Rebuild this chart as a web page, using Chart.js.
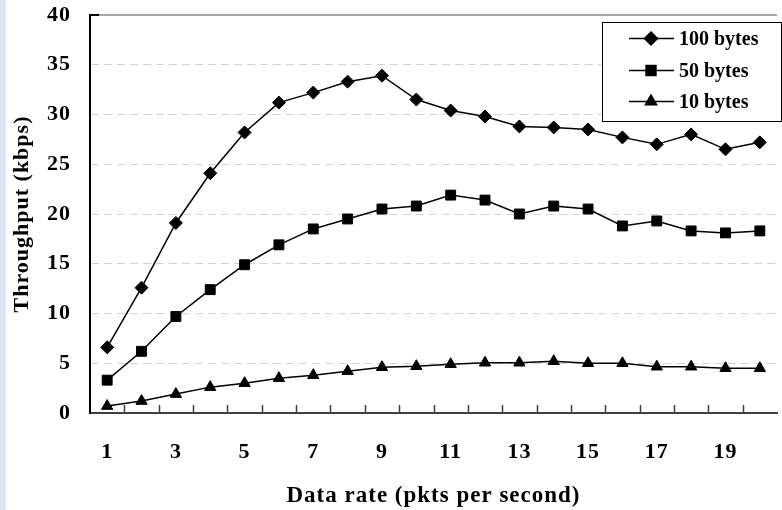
<!DOCTYPE html>
<html>
<head>
<meta charset="utf-8">
<title>Throughput vs data rate</title>
<script src="https://cdn.jsdelivr.net/npm/chart.js"></script>
<style>
    html, body { margin: 0; padding: 0; background: #fff; overflow: hidden; }
    #wrap { position: relative; width: 782px; height: 510px; overflow: hidden; }
    canvas { display: block; }
</style>
</head>
<body>
<div id="wrap"><canvas id="rateChart" width="785" height="510"></canvas></div>
<script>
// data
const rates = [1, 2, 3, 4, 5, 6, 7, 8, 9, 10, 11, 12, 13, 14, 15, 16, 17, 18, 19, 20];
const bytes100 = [6.6, 12.6, 19.1, 24.1, 28.2, 31.2, 32.2, 33.3, 33.9, 31.5, 30.4, 29.8, 28.8, 28.7, 28.5, 27.7, 27.0, 28.0, 26.5, 27.2];
const bytes50 = [3.3, 6.2, 9.7, 12.4, 14.9, 16.9, 18.5, 19.5, 20.5, 20.8, 21.9, 21.4, 20.0, 20.8, 20.5, 18.8, 19.3, 18.3, 18.1, 18.3];
const bytes10 = [0.7, 1.2, 1.9, 2.6, 3.0, 3.5, 3.8, 4.2, 4.6, 4.7, 4.9, 5.05, 5.05, 5.2, 5.0, 5.0, 4.65, 4.65, 4.5, 4.5];
const seriesNames = ['100 bytes', '50 bytes', '10 bytes'];
const yTicks = { min: 0, max: 40, step: 5 };

const FONT = "'Liberation Serif', 'Times New Roman', serif";

document.addEventListener('DOMContentLoaded', () => {
    const ctx = document.getElementById('rateChart').getContext('2d');

    // light strip on the left edge, top frame line, inside tick marks and the boxed legend
    const decorations = {
        id: 'decorations',
        beforeDraw(chart) {
            const c = chart.ctx;
            c.save();
            c.fillStyle = '#dde6f0';
            c.fillRect(0, 0, 6, chart.height);
            c.restore();
            // axis text in the figure is a little spread out
            c.letterSpacing = '1px';
        },
        beforeDatasetsDraw(chart) {
            chart.ctx.letterSpacing = '0px';
        },
        afterDraw(chart) {
            const c = chart.ctx;
            const area = chart.chartArea;
            const xs = chart.scales.x;

            c.save();
            c.letterSpacing = '0px';
            // top frame
            c.strokeStyle = '#a6a6a6';
            c.lineWidth = 2;
            c.beginPath();
            c.moveTo(area.left, area.top);
            c.lineTo(area.right, area.top);
            c.stroke();
            c.strokeStyle = '#000';
            c.beginPath();
            c.moveTo(area.left - 1, area.top);
            c.lineTo(area.left + 9, area.top);
            c.stroke();

            // tick marks between categories, pointing up into the plot
            c.strokeStyle = '#404040';
            c.lineWidth = 1.5;
            for (let i = 0; i < rates.length - 1; i++) {
                const x = Math.round((xs.getPixelForValue(i) + xs.getPixelForValue(i + 1)) / 2) + 0.5;
                c.beginPath();
                c.moveTo(x, area.bottom);
                c.lineTo(x, area.bottom - 8);
                c.stroke();
            }

            // legend box
            const box = { x: 602.5, y: 22.5, w: 179, h: 99 };
            c.fillStyle = '#fff';
            c.fillRect(box.x, box.y, box.w, box.h);
            c.strokeStyle = '#000';
            c.lineWidth = 1;
            c.strokeRect(box.x, box.y, box.w, box.h);

            const rows = [38.5, 70.5, 101.5];
            chart.data.datasets.forEach((ds, i) => {
                const y = rows[i];
                c.strokeStyle = '#000';
                c.lineWidth = 1.5;
                c.beginPath();
                c.moveTo(629, y);
                c.lineTo(674, y);
                c.stroke();
                c.fillStyle = '#000';
                Chart.helpers.drawPoint(c, {
                    pointStyle: ds.pointStyle,
                    radius: ds.pointRadius,
                    rotation: 0,
                    borderWidth: 1
                }, 651, y);
                c.fillStyle = '#000';
                c.font = 'bold 20px ' + FONT;
                c.textAlign = 'left';
                c.textBaseline = 'middle';
                c.fillText(ds.label, 679, y + 1);
            });
            c.restore();
        }
    };

    new Chart(ctx, {
        type: 'line',
        data: {
            labels: rates,
            datasets: [
                {
                    label: seriesNames[0],
                    data: bytes100,
                    borderColor: '#000',
                    backgroundColor: '#000',
                    borderWidth: 1.5,
                    pointStyle: 'rectRot',
                    pointRadius: 6.5,
                    pointBorderWidth: 1,
                    tension: 0
                },
                {
                    label: seriesNames[1],
                    data: bytes50,
                    borderColor: '#000',
                    backgroundColor: '#000',
                    borderWidth: 1.5,
                    pointStyle: 'rect',
                    pointRadius: 7,
                    pointBorderWidth: 1,
                    tension: 0
                },
                {
                    label: seriesNames[2],
                    data: bytes10,
                    borderColor: '#000',
                    backgroundColor: '#000',
                    borderWidth: 1.5,
                    pointStyle: 'triangle',
                    pointRadius: 6.5,
                    pointBorderWidth: 1,
                    tension: 0
                }
            ]
        },
        options: {
            responsive: false,
            animation: false,
            layout: { padding: { top: 15, right: 0, bottom: 0, left: 0 } },
            plugins: {
                legend: { display: false },
                tooltip: { enabled: false }
            },
            scales: {
                x: {
                    type: 'category',
                    offset: true,
                    grid: { display: false, drawTicks: false },
                    border: { display: true, color: '#404040', width: 2 },
                    ticks: {
                        color: '#000',
                        font: { family: FONT, size: 22, weight: 'bold' },
                        padding: 26,
                        autoSkip: false,
                        maxRotation: 0,
                        callback: (v, i) => (i % 2 === 0 ? rates[i] : '')
                    },
                    title: {
                        display: true,
                        text: 'Data rate (pkts per second)',
                        color: '#000',
                        font: { family: FONT, size: 23, weight: 'bold' },
                        padding: { top: 0, bottom: 0 }
                    },
                    afterFit: (scale) => {
                        scale.height = 97;
                        scale.paddingLeft = 0;
                        scale.paddingRight = 0;
                    }
                },
                y: {
                    min: yTicks.min,
                    max: yTicks.max,
                    grid: {
                        drawTicks: false,
                        lineWidth: 1,
                        color: (c) => (c.tick.value === yTicks.min || c.tick.value === yTicks.max ? 'rgba(0,0,0,0)' : '#d2d2d2')
                    },
                    border: { display: true, color: '#000', width: 2, dash: [8, 5] },
                    ticks: {
                        stepSize: yTicks.step,
                        color: '#000',
                        font: { family: FONT, size: 22, weight: 'bold' },
                        padding: 19
                    },
                    title: {
                        display: true,
                        text: 'Throughput (kbps)',
                        color: '#000',
                        font: { family: FONT, size: 22, weight: 'bold' },
                        padding: { top: 9, bottom: 0 }
                    },
                    afterFit: (scale) => {
                        scale.width = 90;
                        scale.paddingTop = 0;
                        scale.paddingBottom = 0;
                    }
                }
            }
        },
        plugins: [decorations]
    });
});
</script>
</body>
</html>
